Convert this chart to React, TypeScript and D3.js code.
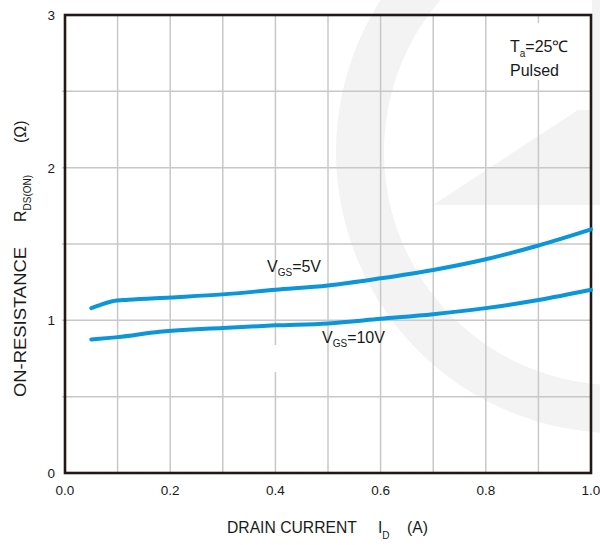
import React from "react";
import * as d3 from "d3";

const xTicks = [0.0, 0.2, 0.4, 0.6, 0.8, 1.0];
const yTicks = [0, 1, 2, 3];
const xGrid = [0.1, 0.2, 0.3, 0.4, 0.5, 0.6, 0.7, 0.8, 0.9];
const yGrid = [0.5, 1, 1.5, 2, 2.5];

const idVgs5 = [0.05, 0.07, 0.09, 0.12, 0.2, 0.3, 0.4, 0.5, 0.6, 0.7, 0.8, 0.9, 1.0];
const rVgs5 = [1.08, 1.105, 1.125, 1.135, 1.15, 1.17, 1.2, 1.228, 1.275, 1.33, 1.4, 1.49, 1.596];
const idVgs10 = [0.05, 0.1, 0.18, 0.3, 0.4, 0.5, 0.6, 0.7, 0.8, 0.9, 1.0];
const rVgs10 = [0.875, 0.89, 0.925, 0.95, 0.967, 0.98, 1.01, 1.04, 1.08, 1.133, 1.2];

const FONT = "'Liberation Sans', Arial, Helvetica, sans-serif";

export default function App() {
  const L = 65, R = 591, T = 15, B = 473;
  const x = d3.scaleLinear().domain([0, 1]).range([L, R]);
  const y = d3.scaleLinear().domain([0, 3]).range([B, T]);
  const line = d3
    .line<[number, number]>()
    .x((d) => x(d[0]))
    .y((d) => y(d[1]))
    .curve(d3.curveMonotoneX);
  const s5 = idVgs5.map((v, i) => [v, rVgs5[i]] as [number, number]);
  const s10 = idVgs10.map((v, i) => [v, rVgs10[i]] as [number, number]);
  const ring = d3.arc()({ innerRadius: 233, outerRadius: 281, startAngle: 0, endAngle: 2 * Math.PI }) as string;
  const blue = "#0a96d8";
  const grid = "#c8c8c8";
  const frame = "#231815";
  const wm = "#f3f3f3";
  const txt = "#1a1a1a";

  return (
    <svg
      width={600}
      height={545}
      style={{ position: "absolute", left: 0, top: 0, background: "#fff" }}
      fontFamily={FONT}
    >
      <defs>
        <clipPath id="clipAll">
          <rect x={0} y={0} width={600} height={545} />
        </clipPath>
      </defs>
      <g clipPath="url(#clipAll)">
        <path d={ring} transform="translate(617,152)" fill={wm} />
        <polygon points="433,205 600,205 600,0 592,0 592,110 578,110" fill={wm} />
      </g>
      {xGrid.map((g) => (
        <line key={"xg" + g} x1={x(g)} x2={x(g)} y1={T} y2={B} stroke={grid} strokeWidth={1.5} />
      ))}
      {yGrid.map((g) => (
        <line key={"yg" + g} x1={L - 3} x2={R} y1={y(g)} y2={y(g)} stroke={grid} strokeWidth={1.5} />
      ))}
      {/* label backgrounds */}
      <rect x={503} y={23} width={76} height={57} fill="#fff" />
      <rect x={271} y={345} width={56} height={27} fill="#fff" />
      <rect x={L} y={T} width={R - L} height={B - T} fill="none" stroke={frame} strokeWidth={2.6} />

      <path d={line(s5) as string} fill="none" stroke={blue} strokeWidth={4} strokeLinecap="round" />
      <path d={line(s10) as string} fill="none" stroke={blue} strokeWidth={4} strokeLinecap="round" />

      {xTicks.map((t) => (
        <text key={"xt" + t} x={x(t)} y={495} fontSize={13.5} textAnchor="middle" fill={txt}>
          {t.toFixed(1)}
        </text>
      ))}
      {yTicks.map((t) => (
        <text key={"yt" + t} x={55} y={y(t) + 5} fontSize={13.5} textAnchor="end" fill={txt}>
          {t}
        </text>
      ))}

      <text x={267} y={272} fontSize={16} fill={txt}>
        V<tspan fontSize={10} dy={4}>GS</tspan>
        <tspan dy={-4}>=5V</tspan>
      </text>
      <text x={322} y={343} fontSize={16} fill={txt}>
        V<tspan fontSize={10} dy={4}>GS</tspan>
        <tspan dy={-4}>=10V</tspan>
      </text>

      <text x={510} y={52} fontSize={16} fill={txt}>
        T<tspan fontSize={10} dy={5}>a</tspan>
        <tspan dy={-5}>=25℃</tspan>
      </text>
      <text x={510} y={76} fontSize={16} fill={txt}>
        Pulsed
      </text>

      <text x={227} y={533} fontSize={15.7} fill={txt}>
        DRAIN CURRENT
      </text>
      <text x={378} y={533} fontSize={15.7} fill={txt}>
        I<tspan fontSize={10} dy={6}>D</tspan>
      </text>
      <text x={407} y={533} fontSize={15.7} fill={txt}>
        (A)
      </text>

      <g transform="translate(26,397) rotate(-90)" fill={txt}>
        <text x={0} y={0} fontSize={16} textLength={150} lengthAdjust="spacingAndGlyphs">
          ON-RESISTANCE
        </text>
        <text x={175} y={0} fontSize={16}>
          R<tspan fontSize={10} dy={5}>DS(ON)</tspan>
        </text>
        <text x={254} y={0} fontSize={16}>
          (Ω)
        </text>
      </g>
    </svg>
  );
}
